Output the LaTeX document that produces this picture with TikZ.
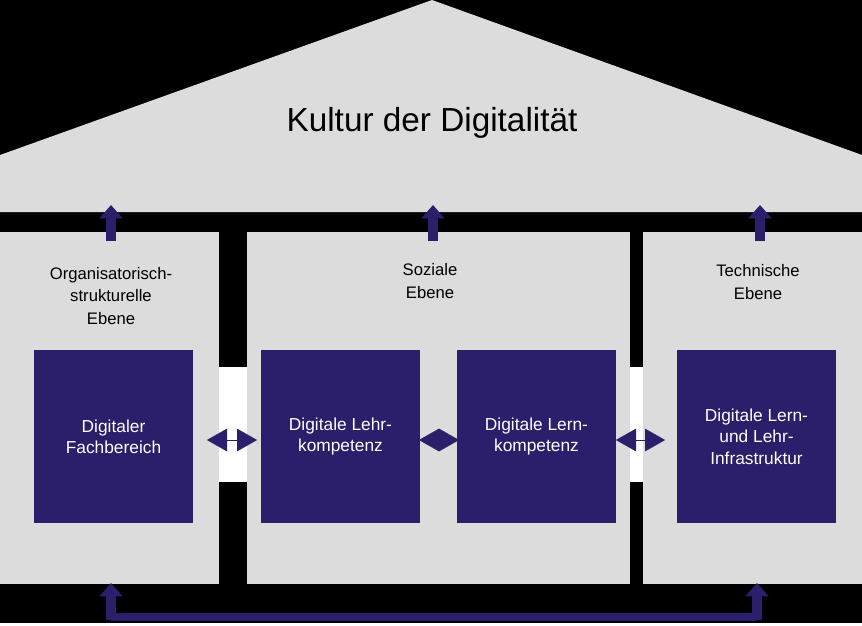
\documentclass[tikz,border=0pt]{standalone}
\usepackage{fontspec}
\setmainfont{Liberation Sans}
\usetikzlibrary{arrows.meta}
\definecolor{hausgrau}{HTML}{DCDCDC}
\definecolor{hausblau}{HTML}{2B1F6B}
\tikzset{
    saeule/.style={fill=hausgrau, draw=none},
    feld/.style={fill=hausblau, draw=none, text=white, align=center, font=\fontsize{13}{16}\selectfont},
    ebene/.style={align=center, font=\fontsize{12.5}{17}\selectfont},
    hochpfeil/.style={hausblau, line width=7.5pt, -{Triangle[width=17pt,length=10pt]}},
    doppelpfeil/.style={hausblau, line width=0.1pt, {Triangle[width=17pt,length=15pt]}-{Triangle[width=17pt,length=15pt]}},
}
\begin{document}
\begin{tikzpicture}[x=0.75pt, y=-0.75pt]
    \fill[black] (0,0) rectangle (862,623);

    % roof
    \fill[hausgrau] (0,155) -- (432,0) -- (862,155) -- (862,212) -- (0,212) -- cycle;
    \node[font=\fontsize{25}{30}\selectfont] (kultur) at (432,123) {Kultur der Digitalität};

    % white bands between the columns
    \fill[white] (219,367) rectangle (247,482);
    \fill[white] (630,367) rectangle (643,482);

    % columns
    \fill[saeule] (0,232) rectangle (219,584);
    \fill[saeule] (247,232) rectangle (630,584);
    \fill[saeule] (643,232) rectangle (862,584);

    \node[ebene] (orga) at (111,296) {Organisatorisch-\\strukturelle\\Ebene};
    \node[ebene] (sozial) at (430,281) {Soziale\\Ebene};
    \node[ebene] (technik) at (758,282) {Technische\\Ebene};

    % fields
    \node[feld, minimum width=119.25pt, minimum height=129.75pt] (fach) at (113.5,436.5) {Digitaler\\Fachbereich};
    \node[feld, minimum width=119.25pt, minimum height=129.75pt] (lehr) at (340.5,436.5) {Digitale Lehr-\\kompetenz};
    \node[feld, minimum width=119.25pt, minimum height=129.75pt] (lern) at (536.5,436.5) {Digitale Lern-\\kompetenz};
    \node[feld, minimum width=119.25pt, minimum height=129.75pt] (infra) at (756.5,436.5) {Digitale Lern-\\und Lehr-\\Infrastruktur};

    % arrows into the roof
    \coordinate (o1) at (111,241); \coordinate (o2) at (111,205);
    \coordinate (s1) at (433,241); \coordinate (s2) at (433,205);
    \coordinate (t1) at (760,241); \coordinate (t2) at (760,205);
    \draw[hochpfeil] (o1) -- (o2);
    \draw[hochpfeil] (s1) -- (s2);
    \draw[hochpfeil] (t1) -- (t2);

    % arrows between the fields
    \draw[doppelpfeil] (207,440) -- (257,440);
    \draw[doppelpfeil] (419,440) -- (459,440);
    \draw[doppelpfeil] (616,440) -- (665,440);

    % bottom link
    \coordinate (u1) at (111,617); \coordinate (u2) at (757,617);
    \draw[hausblau, line width=6pt] (u1) -- (u2);
    \draw[hochpfeil] (111,620) -- (111,583);
    \draw[hochpfeil] (757,620) -- (757,583);
\end{tikzpicture}
\end{document}
